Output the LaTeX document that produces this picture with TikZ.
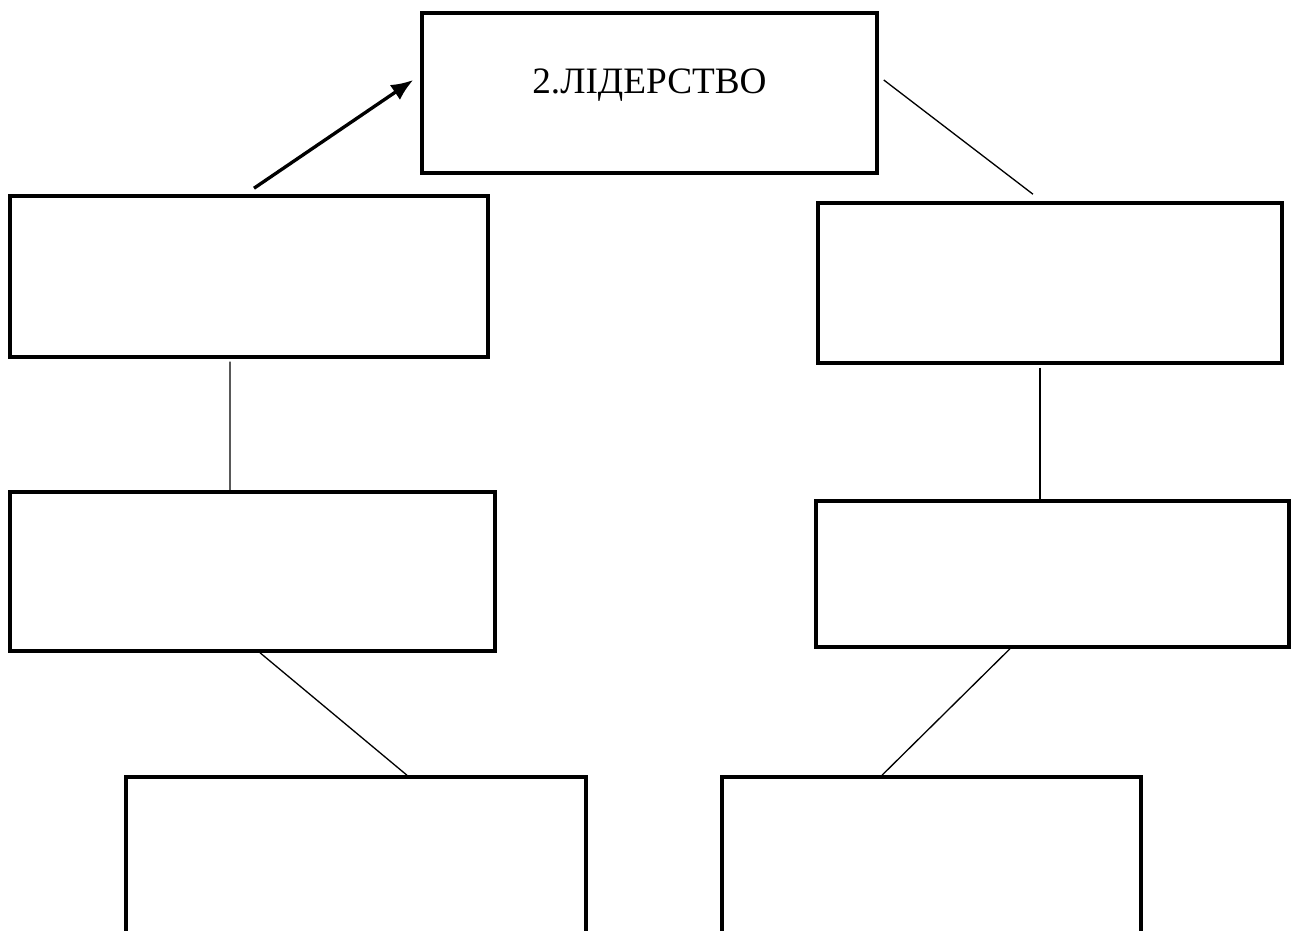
\documentclass[tikz,border=0pt]{standalone}
\usepackage{fontspec}
\setmainfont{Liberation Serif}
\usetikzlibrary{positioning, arrows.meta}

\begin{document}
\begin{tikzpicture}[
        box/.style={draw, line width=2pt, minimum height=3.2cm, inner sep=0pt},
        link/.style={draw, line width=0.75pt},
        arrow/.style={draw, line width=1.9pt, -{Latex[length=0.44cm, width=0.36cm]}}
    ]
    \clip (0,0) rectangle (25.92,18.62);

    % Блоки
    \node (lead) [box, minimum width=9.10cm] at (12.99,16.76) {};
    \node (leadtext) at ([yshift=0.15cm]lead.center) {\fontsize{21.2}{25}\selectfont 2.ЛІДЕРСТВО};

    \node (left1) [box, minimum width=9.56cm, minimum height=3.22cm] at (4.98,13.09) {};
    \node (right1) [box, minimum width=9.28cm] at (21.00,12.96) {};
    \node (left2) [box, minimum width=9.70cm, minimum height=3.18cm] at (5.05,7.19) {};
    \node (right2) [box, minimum width=9.46cm, minimum height=2.92cm] at (21.05,7.14) {};
    \node (left3) [box, minimum width=9.20cm, minimum height=3.40cm] at (7.12,1.38) {};
    \node (right3) [box, minimum width=8.38cm, minimum height=3.40cm] at (18.63,1.38) {};

    % Зв'язки
    \draw[arrow] ([xshift=0.10cm, yshift=0.12cm]left1.north) -- ([xshift=-0.14cm, yshift=0.26cm]lead.west);
    \draw[link] ([xshift=0.10cm, yshift=0.26cm]lead.east) -- ([xshift=-0.34cm, yshift=0.14cm]right1.north);
    \draw[link] ([xshift=-0.38cm, yshift=-0.06cm]left1.south) -- ([xshift=-0.45cm]left2.north);
    \draw[link] ([xshift=-0.20cm, yshift=-0.06cm]right1.south) -- ([xshift=-0.25cm, yshift=-0.06cm]right2.north);
    \draw[link] ([xshift=0.15cm]left2.south) -- ([xshift=1.02cm]left3.north);
    \draw[link] ([xshift=-0.85cm]right2.south) -- ([xshift=-0.99cm]right3.north);

\end{tikzpicture}
\end{document}
